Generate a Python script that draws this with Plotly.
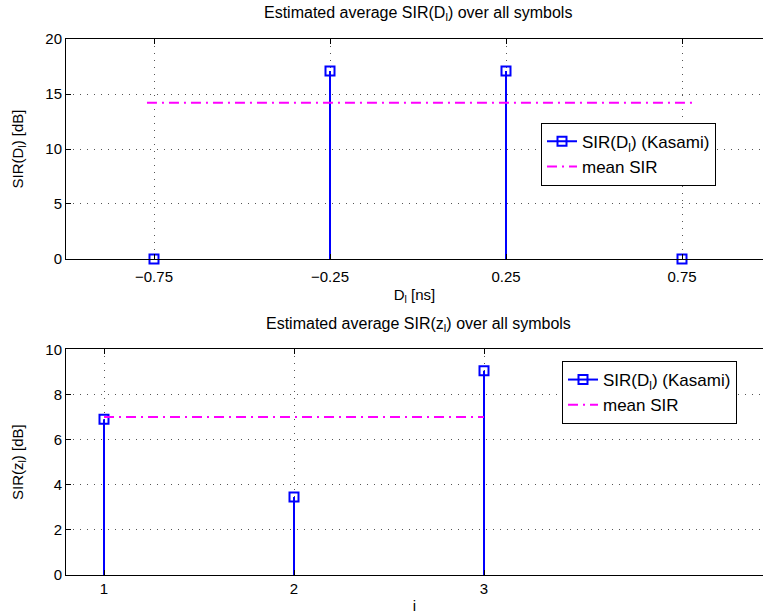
import plotly.graph_objects as go

# Top panel data
delays_ns = [-0.75, -0.25, 0.25, 0.75]
sir_delay_db = [0.0, 17.1, 17.1, 0.0]
mean_sir_delay_db = 14.2
mean_delay_span = [-0.77, 0.79]
delay_ticks = [-0.75, -0.25, 0.25, 0.75]
delay_ticktext = ["\u22120.75", "\u22120.25", "0.25", "0.75"]

# Bottom panel data
index_i = [1, 2, 3]
sir_z_db = [6.9, 3.45, 9.05]
mean_sir_z_db = 7.0
mean_z_span = [1, 3]

BLUE = "#0000FF"
MAG = "#FF00FF"
FONT = "Liberation Sans"
FS = 15
FS_TITLE = 16
FS_LEG = 17

W, H = 763, 616
L = 66


def stem_xy(xs, ys):
    sx, sy = [], []
    for a, b in zip(xs, ys):
        sx += [a, a, None]
        sy += [0, b, None]
    return sx, sy


MARK = dict(symbol="square-open", size=9, color=BLUE, line=dict(width=2, color=BLUE))
DASHDOT = "10px,5px,2px,5px"

fig = go.Figure()

# ---- top
sx, sy = stem_xy(delays_ns, sir_delay_db)
fig.add_trace(go.Scatter(x=sx, y=sy, mode="lines", line=dict(color=BLUE, width=2),
                         showlegend=False, xaxis="x", yaxis="y", hoverinfo="skip"))
fig.add_trace(go.Scatter(x=delays_ns, y=sir_delay_db, mode="markers", marker=MARK, cliponaxis=False,
                         showlegend=False, xaxis="x", yaxis="y"))
fig.add_trace(go.Scatter(x=[None], y=[None], mode="lines+markers", name="SIR(D<sub>l</sub>) (Kasami)",
                         line=dict(color=BLUE, width=2), marker=MARK,
                         xaxis="x", yaxis="y", legend="legend"))
fig.add_trace(go.Scatter(x=mean_delay_span, y=[mean_sir_delay_db] * 2, mode="lines", name="mean SIR",
                         line=dict(color=MAG, width=2, dash=DASHDOT),
                         xaxis="x", yaxis="y", legend="legend"))

# ---- bottom
sx, sy = stem_xy(index_i, sir_z_db)
fig.add_trace(go.Scatter(x=sx, y=sy, mode="lines", line=dict(color=BLUE, width=2),
                         showlegend=False, xaxis="x2", yaxis="y2", hoverinfo="skip"))
fig.add_trace(go.Scatter(x=index_i, y=sir_z_db, mode="markers", marker=MARK, cliponaxis=False,
                         showlegend=False, xaxis="x2", yaxis="y2"))
fig.add_trace(go.Scatter(x=[None], y=[None], mode="lines+markers", name="SIR(D<sub>l</sub>) (Kasami)",
                         line=dict(color=BLUE, width=2), marker=MARK,
                         xaxis="x2", yaxis="y2", legend="legend2"))
fig.add_trace(go.Scatter(x=mean_z_span, y=[mean_sir_z_db] * 2, mode="lines", name="mean SIR",
                         line=dict(color=MAG, width=2, dash=DASHDOT),
                         xaxis="x2", yaxis="y2", legend="legend2"))


def py(px):
    return 1 - px / H


top_t, top_b = 31, 257
bot_t, bot_b = 350, 582
pw = W - L

axis_common = dict(showline=True, linecolor="black", linewidth=1, ticks="inside", ticklen=5,
                   tickcolor="black", showgrid=True, gridcolor="#555555", griddash="1px,6px",
                   gridwidth=1, zeroline=False, tickfont=dict(family=FONT, size=FS, color="black"),
                   title_font=dict(family=FONT, size=FS, color="black"))

fig.update_layout(
    width=W, height=H,
    margin=dict(l=L, r=0, t=0, b=0),
    paper_bgcolor="white", plot_bgcolor="white",
    font=dict(family=FONT, size=FS, color="black"),
    xaxis=dict(axis_common, domain=[0, 1], anchor="y", range=[-1, -1 + pw / 352.0],
               tickmode="array", tickvals=delay_ticks, ticktext=delay_ticktext, ticklabelstandoff=4,
               mirror="ticks", title=dict(text="D<sub>l</sub> [ns]", standoff=5)),
    yaxis=dict(axis_common, domain=[py(top_b), py(top_t)], anchor="x", range=[0, 20],
               tickvals=[0, 5, 10, 15, 20], title=dict(text="SIR(D<sub>l</sub>) [dB]", standoff=18)),
    xaxis2=dict(axis_common, domain=[0, 1], anchor="y2", range=[0.8, 0.8 + pw / 190.0],
                tickvals=[1, 2, 3], mirror="ticks", title=dict(text="i", standoff=4)),
    yaxis2=dict(axis_common, domain=[py(bot_b), py(bot_t)], anchor="x2", range=[0, 10],
                tickvals=[0, 2, 4, 6, 8, 10], title=dict(text="SIR(z<sub>l</sub>) [dB]", standoff=18)),
    legend=dict(x=(541 - L) / pw, y=py(117), xanchor="left", yanchor="top",
                bordercolor="black", borderwidth=1, bgcolor="white",
                font=dict(family=FONT, size=FS_LEG, color="black"), tracegroupgap=0),
    legend2=dict(x=(562 - L) / pw, y=py(362), xanchor="left", yanchor="top",
                 bordercolor="black", borderwidth=1, bgcolor="white",
                 font=dict(family=FONT, size=FS_LEG, color="black"), tracegroupgap=0),
    annotations=[
        dict(text="Estimated average SIR(D<sub>l</sub>) over all symbols", x=(418 - L) / pw, y=py(5),
             xref="paper", yref="paper", xanchor="center", yanchor="middle", showarrow=False,
             font=dict(family=FONT, size=FS_TITLE)),
        dict(text="Estimated average SIR(z<sub>l</sub>) over all symbols", x=(418 - L) / pw, y=py(324),
             xref="paper", yref="paper", xanchor="center", yanchor="middle", showarrow=False,
             font=dict(family=FONT, size=FS_TITLE)),
    ],
)

fig.write_html("out.html", config={"displayModeBar": False},
               post_script="document.body.style.margin='0';document.body.style.overflow='hidden';")
